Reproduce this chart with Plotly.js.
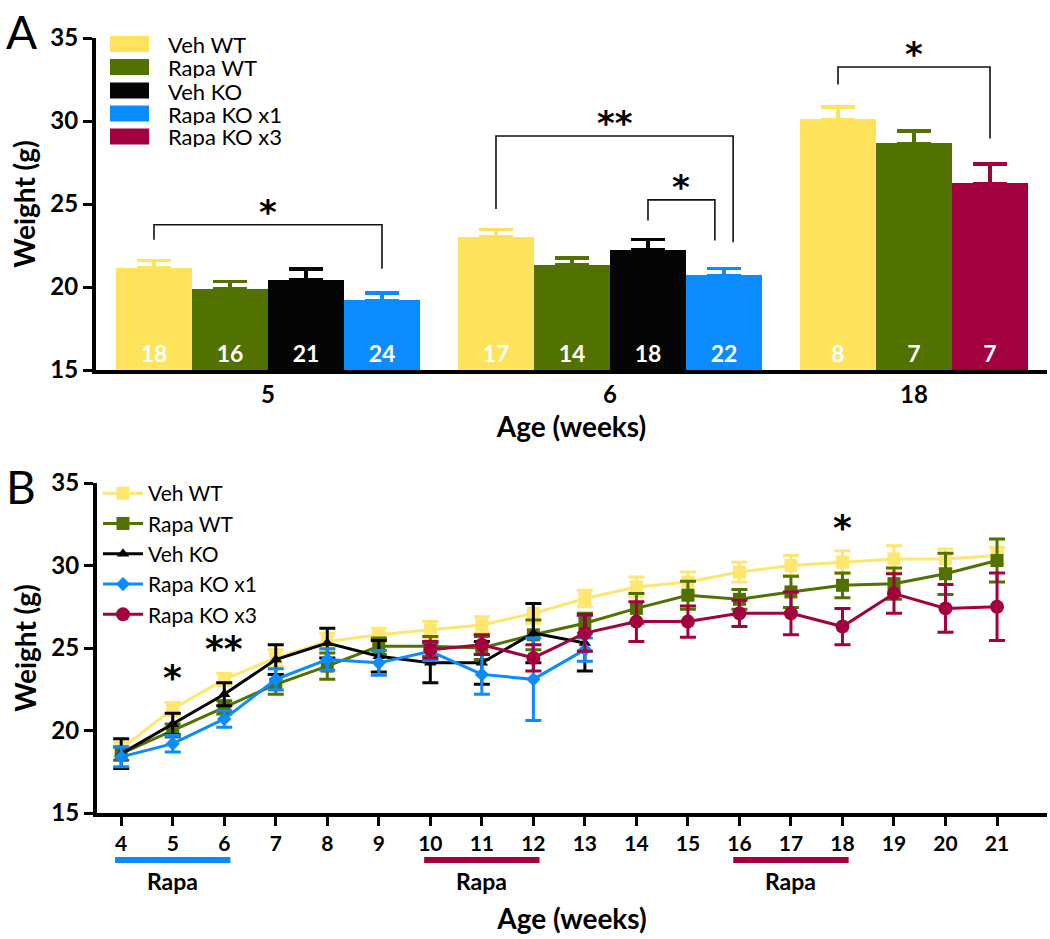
<!DOCTYPE html>
<html>
<head>
<meta charset="utf-8">
<script src="https://cdn.plot.ly/plotly-3.0.1.min.js"></script>
<style>html,body{margin:0;padding:0;background:#fff;}#chart{width:1050px;height:939px;}</style>
</head>
<body>
<div id="chart"></div>
<script>
// ---------------- DATA ----------------
// Panel A: weight at 5, 6 and 18 weeks
const groupsA = ['5', '6', '18'];
const seriesNames = ['Veh WT', 'Rapa WT', 'Veh KO', 'Rapa KO x1', 'Rapa KO x3'];
const seriesColors = ['#FFE35C', '#517200', '#050505', '#0A8CFF', '#A3003F'];
const lineColorsB = ['#FFE66E', '#517200', '#050505', '#0A8CFF', '#A3003F'];

const vehWT_A     = [21.15, 23.0, 30.1];
const vehWT_Aerr  = [0.45, 0.45, 0.75];
const vehWT_An    = [18, 17, 8];
const rapaWT_A    = [19.9, 21.35, 28.65];
const rapaWT_Aerr = [0.42, 0.4, 0.75];
const rapaWT_An   = [16, 14, 7];
const vehKO_A     = [20.45, 22.25, null];
const vehKO_Aerr  = [0.62, 0.62, null];
const vehKO_An    = [21, 18, null];
const rapaKO1_A   = [19.2, 20.7, null];
const rapaKO1_Aerr= [0.45, 0.42, null];
const rapaKO1_An  = [24, 22, null];
const rapaKO3_A   = [null, null, 26.25];
const rapaKO3_Aerr= [null, null, 1.15];
const rapaKO3_An  = [null, null, 7];

// significance brackets in panel A: [group, left series, right series, top, left drop, right drop, label]
const bracketsA = [
  ['5', 'Veh WT', 'Rapa KO x1', 23.75, 22.85, 21.1, '*'],
  ['6', 'Veh WT', 'Rapa KO x1', 29.1, 24.7, 22.7, '**'],
  ['6', 'Veh KO', 'Rapa KO x1', 25.25, 24.0, 22.8, '*'],
  ['18', 'Veh WT', 'Rapa KO x3', 33.25, 32.2, 28.95, '*']
];

// Panel B: weekly weights
const weeks = [4, 5, 6, 7, 8, 9, 10, 11, 12, 13, 14, 15, 16, 17, 18, 19, 20, 21];
const vehWT_B     = [18.9, 21.3, 23.1, 24.4, 25.4, 25.8, 26.1, 26.4, 27.1, 28.0, 28.7, 29.0, 29.6, 30.0, 30.2, 30.4, 30.4, 30.6];
const vehWT_Berr  = [0.4, 0.4, 0.35, 0.5, 0.5, 0.4, 0.5, 0.5, 0.6, 0.5, 0.6, 0.6, 0.6, 0.6, 0.7, 0.8, 0.6, 0.5];
const rapaWT_B    = [18.6, 20.0, 21.4, 22.8, 23.9, 25.1, 25.1, 25.0, 25.8, 26.5, 27.4, 28.2, 27.95, 28.4, 28.8, 28.9, 29.5, 30.3];
const rapaWT_Berr = [0.4, 0.4, 0.4, 0.6, 0.8, 0.5, 0.6, 0.7, 0.9, 0.6, 0.9, 0.85, 0.6, 0.95, 0.75, 0.95, 1.25, 1.3];
const weeksKO     = [4, 5, 6, 7, 8, 9, 10, 11, 12, 13];
const vehKO_B     = [18.6, 20.4, 22.2, 24.3, 25.3, 24.5, 24.1, 24.1, 25.9, 25.3];
const vehKO_Berr  = [0.9, 0.65, 0.7, 0.9, 0.9, 0.95, 1.2, 1.3, 1.8, 1.7];
const rapaKO1_B   = [18.4, 19.2, 20.7, 23.1, 24.3, 24.1, 24.8, 23.4, 23.1, 24.9];
const rapaKO1_Berr= [0.6, 0.5, 0.5, 0.65, 0.65, 0.75, 0.55, 1.2, 2.5, 0.7];
const weeksKO3    = [10, 11, 12, 13, 14, 15, 16, 17, 18, 19, 20, 21];
const rapaKO3_B   = [24.9, 25.2, 24.4, 25.9, 26.6, 26.6, 27.1, 27.1, 26.3, 28.3, 27.4, 27.5];
const rapaKO3_Berr= [0.5, 0.6, 0.8, 1.1, 1.2, 0.95, 0.8, 1.3, 1.1, 1.2, 1.45, 2.05];

// significance marks in panel B: [week, y, label]
const starsB = [[5, 23.2, '*'], [6, 25.0, '**'], [18, 32.3, '*']];
// Rapamycin treatment windows: [start week, end week, colour index]
const rapaPeriods = [[4, 6, 3], [10, 12, 4], [16, 18, 4]];
const rapaLabel = 'Rapa';

// ---------------- BUILD ----------------
const W = 1050, H = 939;
const px = v => v / W;
const py = v => 1 - v / H;
const FONT = 'Lato, "Open Sans", sans-serif';

const valsA = [vehWT_A, rapaWT_A, vehKO_A, rapaKO1_A, rapaKO3_A];
const errsA = [vehWT_Aerr, rapaWT_Aerr, vehKO_Aerr, rapaKO1_Aerr, rapaKO3_Aerr];
const nsA = [vehWT_An, rapaWT_An, vehKO_An, rapaKO1_An, rapaKO3_An];

// slot positions: bars contiguous within a group, half-bar gap between groups
const slotPos = {};
const groupCenters = [];
let cursor = 0;
groupsA.forEach((g, gi) => {
  slotPos[g] = {};
  const present = seriesNames.map((s, si) => si).filter(si => valsA[si][gi] !== null);
  present.forEach((si, k) => { slotPos[g][seriesNames[si]] = cursor + k; });
  groupCenters.push(cursor + (present.length - 1) / 2);
  cursor += present.length + 0.5;
});

const traces = [];
seriesNames.forEach((name, si) => {
  const xs = [], ys = [], es = [], ts = [];
  groupsA.forEach((g, gi) => {
    if (valsA[si][gi] !== null) {
      xs.push(slotPos[g][name]); ys.push(valsA[si][gi] - 15);
      es.push(errsA[si][gi]); ts.push(String(nsA[si][gi]));
    }
  });
  traces.push({
    type: 'bar', x: xs, y: ys, base: 15, width: 1, name: name, showlegend: false,
    xaxis: 'x', yaxis: 'y',
    marker: {color: seriesColors[si], line: {width: 0}},
    text: ts, textposition: 'inside', insidetextanchor: 'start', textangle: 0,
    textfont: {family: FONT, size: 23, color: '#ffffff', weight: 'bold'},
    error_y: {type: 'data', symmetric: false, array: es, arrayminus: es.map(() => 0),
              color: seriesColors[si], thickness: 3.5, width: 17},
    hoverinfo: 'x+y'
  });
});

const bx = [weeks, weeks, weeksKO, weeksKO, weeksKO3];
const by = [vehWT_B, rapaWT_B, vehKO_B, rapaKO1_B, rapaKO3_B];
const be = [vehWT_Berr, rapaWT_Berr, vehKO_Berr, rapaKO1_Berr, rapaKO3_Berr];
const symbols = ['square', 'square', 'triangle-up', 'diamond', 'circle'];
const msizes = [13, 13, 11, 11, 14];
seriesNames.forEach((name, si) => {
  traces.push({
    type: 'scatter', mode: 'lines+markers', x: bx[si], y: by[si], name: name,
    xaxis: 'x2', yaxis: 'y2', showlegend: true,
    line: {color: lineColorsB[si], width: 3},
    marker: {symbol: symbols[si], size: msizes[si], color: lineColorsB[si]},
    error_y: {type: 'data', array: be[si], color: lineColorsB[si], thickness: 3, width: 8}
  });
});

// shapes and annotations
const shapes = [];
const annotations = [];
bracketsA.forEach(b => {
  const [g, l, r, top, ld, rd, lab] = b;
  let xl = slotPos[g][l], xr = slotPos[g][r];
  const sameEnd = bracketsA.filter(o => o[0] === g && o[2] === r);
  if (sameEnd.length > 1) xr += (top === Math.max(...sameEnd.map(o => o[3]))) ? 0.12 : -0.12;
  shapes.push({type: 'path', xref: 'x', yref: 'y',
    path: `M${xl},${ld} L${xl},${top} L${xr},${top} L${xr},${rd}`,
    line: {color: '#111', width: 1.6}});
  annotations.push({xref: 'x', yref: 'y', x: (xl + xr) / 2, y: top, yanchor: 'bottom', yshift: -9,
    text: lab, showarrow: false, font: {family: 'DejaVu Sans', size: 34, color: '#000', weight: 'bold'}});
});
starsB.forEach(s => {
  annotations.push({xref: 'x2', yref: 'y2', x: s[0], y: s[1], yanchor: 'middle',
    text: s[2], showarrow: false, font: {family: 'DejaVu Sans', size: 36, color: '#000', weight: 'bold'}});
});
rapaPeriods.forEach(p => {
  shapes.push({type: 'line', xref: 'x2', yref: 'paper', x0: p[0] - 0.12, x1: p[1] + 0.12,
    y0: py(860), y1: py(860), line: {color: seriesColors[p[2]], width: 6}});
  annotations.push({xref: 'x2', yref: 'paper', x: (p[0] + p[1]) / 2, y: py(881), yanchor: 'middle',
    text: rapaLabel, showarrow: false, font: {family: FONT, size: 23, color: '#000', weight: 'bold'}});
});
// panel A legend (manual patches)
const legRows = [44, 67, 90.5, 113.5, 136.5];
seriesNames.forEach((name, si) => {
  shapes.push({type: 'rect', xref: 'paper', yref: 'paper', x0: px(110), x1: px(149),
    y0: py(legRows[si] - 8), y1: py(legRows[si] + 8), fillcolor: seriesColors[si], line: {width: 0}});
  annotations.push({xref: 'paper', yref: 'paper', x: px(166), y: py(legRows[si]), xanchor: 'left', yanchor: 'middle',
    height: 22, valign: 'middle',
    text: name, showarrow: false, font: {family: FONT, size: 22, color: '#000'}});
});
// panel letters
annotations.push({xref: 'paper', yref: 'paper', x: px(4), y: py(2), xanchor: 'left', yanchor: 'top',
  text: 'A', showarrow: false, font: {family: FONT, size: 46, color: '#000'}});
annotations.push({xref: 'paper', yref: 'paper', x: px(4), y: py(457), xanchor: 'left', yanchor: 'top',
  text: 'B', showarrow: false, font: {family: FONT, size: 46, color: '#000'}});

const tickFont = {family: FONT, size: 24, color: '#000', weight: 'bold'};
const titleFont = {family: FONT, size: 28, color: '#000', weight: 'bold'};
const baseY = {range: [15, 35], tickvals: [15, 20, 25, 30, 35], ticks: 'outside', ticklen: 9, tickwidth: 3,
  tickcolor: '#000', showline: true, linewidth: 4, linecolor: '#000', showgrid: false, zeroline: false,
  tickfont: tickFont, fixedrange: true};

const layout = {
  width: W, height: H, margin: {l: 0, r: 0, t: 0, b: 0}, paper_bgcolor: '#fff', plot_bgcolor: '#fff',
  barmode: 'overlay', bargap: 0, showlegend: true,
  xaxis: {domain: [px(96), px(1047)], range: [-0.763, 11.75], anchor: 'y', tickvals: groupCenters, ticktext: groupsA,
    ticks: '', showline: true, linewidth: 4, linecolor: '#000', showgrid: false, zeroline: false,
    tickfont: tickFont, title: {text: 'Age (weeks)', font: titleFont, standoff: 12}},
  yaxis: Object.assign({}, baseY, {domain: [py(370), py(38)], anchor: 'x',
    title: {text: 'Weight (g)', font: titleFont, standoff: 8}}),
  xaxis2: {domain: [px(97), px(1047)], range: [3.53, 21.97], anchor: 'y2', tickvals: weeks,
    ticks: 'outside', ticklen: 9, tickwidth: 3, tickcolor: '#000', showline: true, linewidth: 4, linecolor: '#000',
    showgrid: false, zeroline: false, tickfont: {family: FONT, size: 21, color: '#000', weight: 'bold'},
    title: {text: 'Age (weeks)', font: titleFont, standoff: 56}},
  yaxis2: Object.assign({}, baseY, {domain: [py(813), py(483)], anchor: 'x2',
    title: {text: 'Weight (g)', font: titleFont, standoff: 8}}),
  legend: {x: px(98), y: py(473), xanchor: 'left', yanchor: 'top', bgcolor: 'rgba(0,0,0,0)',
    font: {family: FONT, size: 21, color: '#000'}, tracegroupgap: 0, itemwidth: 40},
  shapes: shapes, annotations: annotations
};

Plotly.newPlot('chart', traces, layout, {staticPlot: true, displayModeBar: false});
</script>
</body>
</html>
